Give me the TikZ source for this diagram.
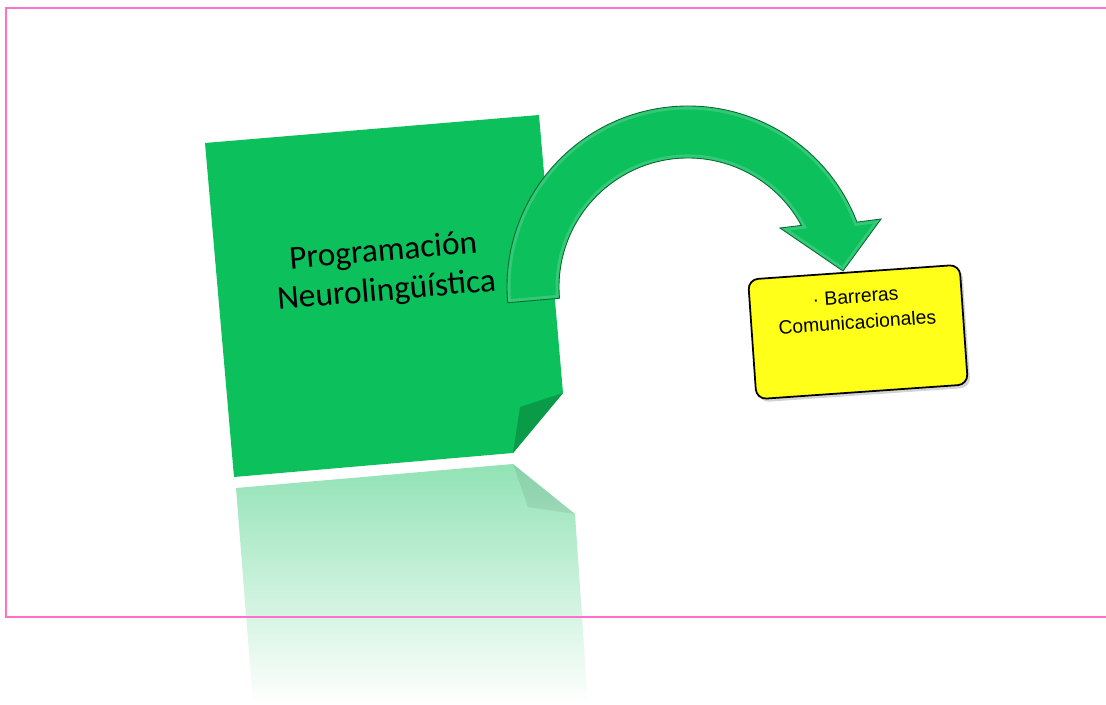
\documentclass[tikz,border=0pt]{standalone}
\usepackage{fontspec}
\usepackage{tikz}
\usetikzlibrary{shadows,calc}
\newfontfamily\notefont{Carlito}
\newfontfamily\cardfont{Liberation Sans}
\definecolor{noteGreen}{RGB}{12,192,92}
\definecolor{foldGreen}{RGB}{9,155,72}
\definecolor{frameRose}{RGB}{255,112,200}
\definecolor{cardYellow}{RGB}{255,255,26}

\begin{document}
\begin{tikzpicture}[x=0.02cm, y=0.02cm]
  \useasboundingbox (0,0) rectangle (1106,704);
  \fill[noteGreen] (205,561) -- (539,589) -- (563,311) -- (513,251) -- (234,227) -- cycle;
  \fill[foldGreen] (563,311) -- (520,297) -- (513,251) -- cycle;
  \shade[top color=noteGreen!45, middle color=noteGreen!20, bottom color=white]
    (236,216) -- (513,240) -- (575,190) -- (588,0) -- (253,0) -- cycle;
  \fill[black, opacity=0.07] (513,240) -- (528,197) -- (575,190) -- cycle;
  \node[rotate=5, align=center, inner sep=0pt, font=\notefont\fontsize{19}{22.5}\selectfont] (pnl) at (385,432) {Programación\\Neurolingüística};
  \coordinate (hub) at (688,417);
  \path[save path=\arrowpath]
    ([shift={(185:181)}]hub) arc[start angle=185, end angle=21, radius=181]
    -- (881,485) -- (843,433) -- (780,476)
    -- ([shift={(28.5:129)}]hub) arc[start angle=28.5, end angle=185, radius=129] -- cycle;
  \fill[noteGreen, drop shadow={opacity=0.3, shadow xshift=1pt, shadow yshift=-1.2pt}, use path=\arrowpath];
  \begin{scope}
    \clip[use path=\arrowpath];
    \draw[noteGreen!60!white, line width=4pt, opacity=0.4, use path=\arrowpath];
  \end{scope}
  \draw[noteGreen!55!black, line width=0.5pt, use path=\arrowpath];
  \node[draw=black, line width=1pt, fill=cardYellow, rounded corners=0.2cm, minimum width=4.24cm, minimum height=2.4cm,
    rotate=4, drop shadow={opacity=0.35, shadow xshift=1.5pt, shadow yshift=-1.8pt}] (card) at (858,372) {};
  \node[rotate=4, anchor=north, align=center, inner sep=0pt, font=\cardfont\fontsize{11}{14.7}\selectfont]
    (cardtxt) at ($(card.north)!0.15!(card.south)$) {· Barreras\\Comunicacionales};
  \draw[frameRose, line width=1.1pt] (1106,696) -- (6,696) -- (6,87) -- (1106,87);
\end{tikzpicture}
\end{document}
